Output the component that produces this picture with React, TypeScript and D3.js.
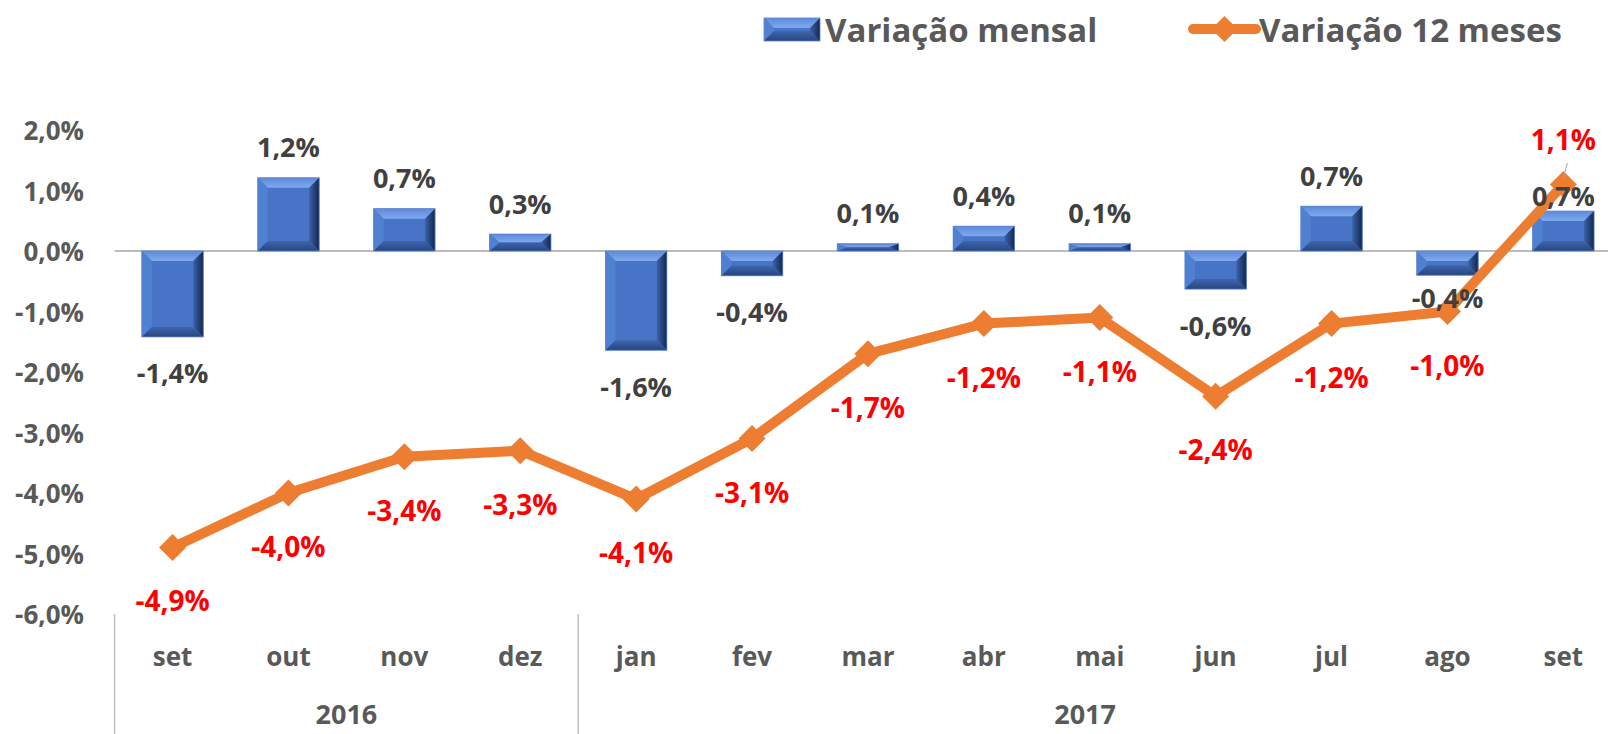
import * as d3 from 'd3';

// months shown on the category axis
const months = ['set', 'out', 'nov', 'dez', 'jan', 'fev', 'mar', 'abr', 'mai', 'jun', 'jul', 'ago', 'set'];
const years = [
	{ label: '2016', from: 0, to: 3 },
	{ label: '2017', from: 4, to: 12 },
];
// Variação mensal (bars), in %
const monthly = [-1.42, 1.21, 0.7, 0.28, -1.64, -0.41, 0.12, 0.41, 0.12, -0.63, 0.74, -0.4, 0.66];
// Variação 12 meses (line), in %
const yearly = [-4.9, -4.0, -3.4, -3.3, -4.1, -3.1, -1.7, -1.2, -1.1, -2.4, -1.2, -1.0, 1.1];
const yTicks = [2, 1, 0, -1, -2, -3, -4, -5, -6];

const W = 1608;
const H = 734;
const FONT = '"Open Sans", "DejaVu Sans", sans-serif';

const ptBr = d3.formatLocale({ decimal: ',', thousands: '.', grouping: [3], currency: ['R$', ''], minus: '-' });
const fmt = ptBr.format('.1f');
const pct = (v: number) => fmt(v) + '%';

// bevelled bar like Excel's "relevo" effect
const BevelBar = ({ x, y, w, h }: { x: number; y: number; w: number; h: number }) => {
	const bx = Math.min(10, w / 2);
	const by = Math.min(10, h / 2);
	const x1 = x + w;
	const y1 = y + h;
	return (
		<g>
			<rect x={x} y={y} width={w} height={h} fill="#4874C8" />
			<polygon points={`${x},${y} ${x1},${y} ${x1 - bx},${y + by} ${x + bx},${y + by}`} fill="url(#bvTop)" />
			<polygon points={`${x},${y} ${x + bx},${y + by} ${x + bx},${y1 - by} ${x},${y1}`} fill="#5080D0" />
			<polygon points={`${x1},${y} ${x1},${y1} ${x1 - bx},${y1 - by} ${x1 - bx},${y + by}`} fill="url(#bvRight)" />
			<polygon points={`${x},${y1} ${x1},${y1} ${x1 - bx},${y1 - by} ${x + bx},${y1 - by}`} fill="url(#bvBottom)" />
			<rect x={x} y={y} width={w} height={h} fill="none" stroke="#5A84CF" strokeWidth={0.8} />
		</g>
	);
};

const App = () => {
	const left = 114.6;
	const step = 115.9;
	const x = d3
		.scaleBand<number>()
		.domain(months.map((_, i) => i))
		.range([left, left + step * months.length])
		.paddingInner(0.47)
		.paddingOuter(0.235);
	const y = d3.scaleLinear().domain([-6, 2]).range([614, 130]);
	const cx = (i: number) => (x(i) as number) + x.bandwidth() / 2;
	const y0 = y(0);

	const line = d3
		.line<number>()
		.x((_, i) => cx(i))
		.y((d) => y(d));

	const diamond = (px: number, py: number, r: number) =>
		`M${px},${py - r}L${px + r},${py}L${px},${py + r}L${px - r},${py}Z`;

	// small manual label nudges (as in the original)
	const barLabelShift: Record<number, number> = { 11: -14, 12: -15 };

	const plotRight = Math.min(x.range()[1], W - 16);
	const sepXs = [x.range()[0], left + step * 4];

	return (
		<div style={{ position: 'absolute', left: 0, top: 0 }}>
			<svg width={W} height={H} style={{ display: 'block', background: '#fff', fontFamily: FONT }}>
				<defs>
					<linearGradient id="bvTop" x1="0" y1="0" x2="0" y2="1">
						<stop offset="0" stopColor="#5E8AD8" />
						<stop offset="1" stopColor="#7FA8EE" />
					</linearGradient>
					<linearGradient id="bvRight" x1="0" y1="0" x2="1" y2="0">
						<stop offset="0" stopColor="#3A62AA" />
						<stop offset="1" stopColor="#14274E" />
					</linearGradient>
					<linearGradient id="bvBottom" x1="0" y1="0" x2="0" y2="1">
						<stop offset="0" stopColor="#3E66AE" />
						<stop offset="1" stopColor="#27457E" />
					</linearGradient>
				</defs>

				{/* legend */}
				<BevelBar x={764} y={18} w={56} h={23} />
				<text x={825} y={29} dominantBaseline="central" fontSize={33} fontWeight={700} fill="#595959">
					Variação mensal
				</text>
				<line x1={1193} x2={1256} y1={29} y2={29} stroke="#ED7D31" strokeWidth={10} strokeLinecap="round" />
				<path d={diamond(1224.5, 29, 13)} fill="#ED7D31" />
				<text x={1259} y={29} dominantBaseline="central" fontSize={33} fontWeight={700} fill="#595959">
					Variação 12 meses
				</text>

				{/* y axis labels */}
				{yTicks.map((t) => (
					<text key={t} x={84} y={y(t)} textAnchor="end" dominantBaseline="central" fontSize={26} fontWeight={700} fill="#595959">
						{pct(t)}
					</text>
				))}

				{/* zero line */}
				<line x1={x.range()[0]} x2={W} y1={y0} y2={y0} stroke="#A6A6A6" strokeWidth={1.5} />

				{/* category axis */}
				{sepXs.map((sx) => (
					<line key={sx} x1={sx} x2={sx} y1={y(-6)} y2={H} stroke="#BFBFBF" strokeWidth={1.5} />
				))}
				{months.map((m, i) => (
					<text key={i} x={cx(i)} y={656} textAnchor="middle" dominantBaseline="central" fontSize={26} fontWeight={700} fill="#595959">
						{m}
					</text>
				))}
				{years.map((yr, k) => {
					const a = k === 0 ? sepXs[0] : sepXs[1];
					const b = k === 0 ? sepXs[1] : plotRight;
					return (
						<text key={yr.label} x={(a + b) / 2} y={713} textAnchor="middle" dominantBaseline="central" fontSize={27} fontWeight={700} fill="#595959">
							{yr.label}
						</text>
					);
				})}

				{/* bars */}
				{monthly.map((v, i) => {
					const top = y(Math.max(0, v));
					const h = Math.abs(y(v) - y0);
					return <BevelBar key={i} x={x(i) as number} y={top} w={x.bandwidth()} h={h} />;
				})}

				{/* 12-month line */}
				<path d={line(yearly) ?? ''} fill="none" stroke="#ED7D31" strokeWidth={10} strokeLinejoin="round" />
				{yearly.map((v, i) => (
					<path key={i} d={diamond(cx(i), y(v), 13.5)} fill="#ED7D31" />
				))}

				{/* leader line for last point label */}
				<line x1={cx(12) + 4} y1={163} x2={cx(12)} y2={178} stroke="#A6A6A6" strokeWidth={1} />

				{/* bar labels */}
				{monthly.map((v, i) => {
					const base = v >= 0 ? y(v) - 31 : y(v) + 36;
					const ly = base + (barLabelShift[i] ?? 0) * (v >= 0 ? -1 : 1);
					return (
						<text key={i} x={cx(i)} y={ly} textAnchor="middle" dominantBaseline="central" fontSize={27} fontWeight={700} fill="#404040">
							{pct(v)}
						</text>
					);
				})}

				{/* line labels */}
				{yearly.map((v, i) => {
					const ly = i === yearly.length - 1 ? y(v) - 45 : y(v) + 53;
					return (
						<text key={i} x={cx(i)} y={ly} textAnchor="middle" dominantBaseline="central" fontSize={28} fontWeight={700} fill="#FF0000">
							{pct(v)}
						</text>
					);
				})}
			</svg>
		</div>
	);
};

export default App;
